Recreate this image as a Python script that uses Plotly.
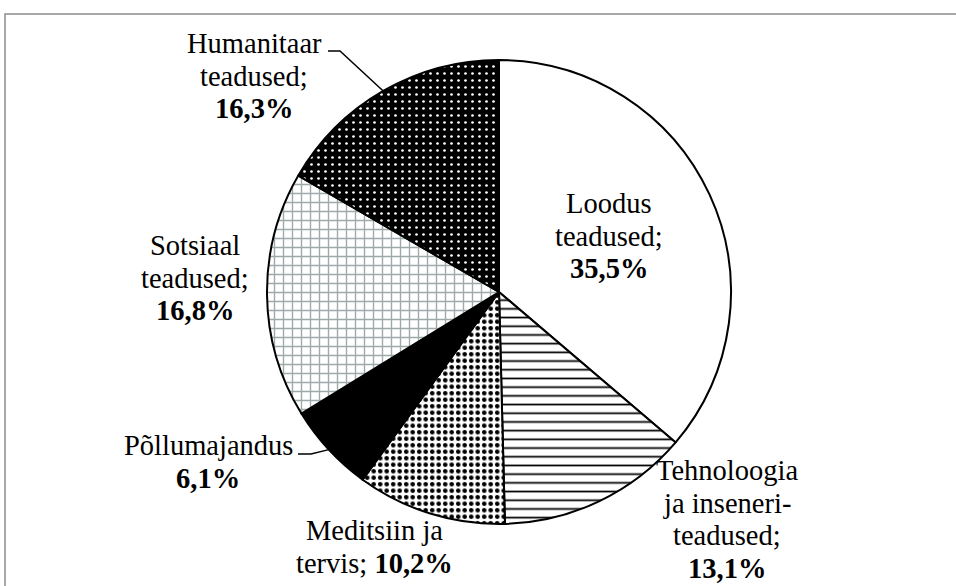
import math
import plotly.graph_objects as go

# ---- data ----
categories = ["Loodus teadused", "Tehnoloogia ja inseneri-teadused", "Meditsiin ja tervis",
              "Põllumajandus", "Sotsiaal teadused", "Humanitaar teadused"]
values = [35.5, 13.1, 10.2, 6.1, 16.8, 16.3]
label_lines = [["Loodus", "teadused;", "<b>35,5%</b>"],
               ["Tehnoloogia", "ja inseneri-", "teadused;", "<b>13,1%</b>"],
               ["Meditsiin ja", "tervis; <b>10,2%</b>"],
               ["Põllumajandus", "<b>6,1%</b>"],
               ["Sotsiaal", "teadused;", "<b>16,8%</b>"],
               ["Humanitaar", "teadused;", "<b>16,3%</b>"]]

W, H = 956, 586
CX, CY, R = 499, 292, 232
FS = 28.5
LINE = 32.5


def px(x):
    return x / W


def py(y):
    return 1 - y / H


fig = go.Figure()
fig.add_trace(go.Pie(
    labels=categories,
    values=values,
    sort=False,
    direction="clockwise",
    rotation=0,
    textinfo="none",
    hoverinfo="label+percent",
    showlegend=False,
    domain=dict(x=[px(CX - R), px(CX + R)], y=[py(CY + R), py(CY - R)]),
    marker=dict(
        colors=["white", "white", "white", "black", "white", "black"],
        line=dict(color="black", width=2),
        pattern=dict(
            shape=["", "-", ".", "", "+", "."],
            fgcolor=["black", "black", "black", "black", "#9eaaaa", "white"],
            bgcolor=["white", "white", "white", "black", "white", "black"],
            fillmode="replace",
            size=[8, 8.7, 6.5, 8, 9, 7],
            solidity=[0.2, 0.2, 0.4, 0.2, 0.28, 0.12],
        ),
    ),
))

font = dict(family="Liberation Serif, Times New Roman, serif", size=FS, color="black")

# label block positions: (centre x, baseline of first line) in pixels
label_pos = [(609, 213), (727, 480), (374, 540), (208, 455), (195, 255), (254, 53)]
for lines, (lx, by) in zip(label_lines, label_pos):
    for i, ln in enumerate(lines):
        fig.add_annotation(x=px(lx), y=py(by + i * LINE - 0.32 * FS), xref="paper", yref="paper",
                           text=ln, showarrow=False, font=font, align="center",
                           xanchor="center", yanchor="middle")

# leader lines to slice mid-angle on the rim
total = sum(values)
cum = 0
mids = []
for v in values:
    mids.append((cum + v / 2) / total * 360)
    cum += v


def rim(idx):
    a = math.radians(mids[idx])
    return CX + R * math.sin(a), CY - R * math.cos(a)


# Humanitaar
hx, hy = rim(5)
fig.add_shape(type="path", xref="paper", yref="paper",
              path=f"M {px(328)} {py(51)} L {px(340)} {py(51)} L {px(hx)} {py(hy)}",
              line=dict(color="black", width=1.5))
# Põllumajandus
ppx, ppy = rim(3)
fig.add_shape(type="path", xref="paper", yref="paper",
              path=f"M {px(298)} {py(454)} L {px(311)} {py(454)} L {px(ppx)} {py(ppy)}",
              line=dict(color="black", width=1.5))

# chart-area border
fig.add_shape(type="rect", xref="paper", yref="paper",
              x0=px(5), y0=py(620), x1=px(990), y1=py(14),
              line=dict(color="#8c8c8c", width=1.5), fillcolor="rgba(0,0,0,0)", layer="below")

fig.update_layout(width=W, height=H, margin=dict(l=0, r=0, t=0, b=0),
                  paper_bgcolor="white", plot_bgcolor="white")
fig.write_html("out.html", config={"displayModeBar": False},
               post_script="document.body.style.margin='0';document.body.style.overflow='hidden';")
